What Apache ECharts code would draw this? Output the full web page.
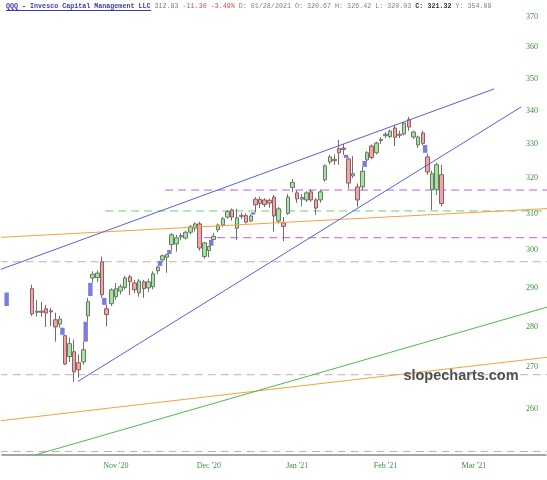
<!DOCTYPE html>
<html>
<head>
<meta charset="UTF-8">
<script src="https://cdn.jsdelivr.net/npm/echarts@6/dist/echarts.min.js"></script>
<style>
  html, body { margin: 0; padding: 0; background: #fff; }
  #chart { width: 547px; height: 480px; }
</style>
</head>
<body>
<div id="chart"></div>
<script>
// QQQ daily candles, Oct 19 2020 .. Feb 25 2021, [open, close, low, high]
const firstSlot = 6;      // slot of the first drawn candle
const slotCount = 117;    // trading-day slots across the whole width
const ohlc = [
  // Oct
  [289.7, 283.2, 282.7, 290.7], [283.6, 283.9, 282.5, 286.8], [283.9, 283.6, 282.5, 286.3],
  [284.5, 283.4, 279.9, 285.5], [284.0, 283.7, 280.1, 284.7], [281.7, 279.9, 276.2, 283.5],
  [280.6, 281.9, 279.7, 282.7], [277.7, 270.7, 270.5, 277.9], [272.5, 275.7, 271.2, 277.2],
  [273.7, 268.8, 266.4, 276.7],
  // Nov
  [271.0, 269.3, 267.4, 273.0], [271.2, 274.2, 270.5, 276.2], [282.7, 286.3, 281.2, 287.3],
  [292.5, 293.5, 291.2, 294.3], [292.6, 293.8, 291.5, 294.5], [296.8, 288.1, 287.3, 298.2],
  [284.5, 283.0, 280.0, 285.5], [285.8, 289.4, 285.2, 289.8], [287.6, 289.7, 286.8, 291.2],
  [289.1, 290.2, 288.2, 290.8], [290.0, 292.5, 289.5, 293.0], [292.8, 291.5, 288.1, 293.3],
  [291.2, 289.4, 288.5, 292.0], [288.6, 291.7, 287.6, 292.2], [291.5, 289.7, 287.3, 292.0],
  [289.9, 291.5, 288.8, 292.3], [290.2, 293.6, 289.5, 294.3], [294.4, 295.4, 293.5, 295.7],
  [297.3, 298.4, 297.0, 298.7], [298.0, 298.8, 293.9, 298.9],
  // Dec
  [301.4, 304.1, 300.0, 304.6], [301.6, 303.3, 299.5, 304.1], [303.5, 303.9, 302.6, 304.6],
  [303.2, 304.8, 302.8, 305.2], [304.8, 306.3, 304.2, 306.8], [305.9, 307.1, 305.0, 307.5],
  [307.1, 300.5, 299.8, 307.7], [298.2, 301.9, 297.6, 302.2], [299.8, 300.9, 298.0, 301.1],
  [302.8, 303.7, 302.7, 304.6], [305.5, 306.8, 304.8, 307.2], [306.8, 308.5, 306.2, 309.0],
  [309.0, 310.5, 308.5, 310.9], [311.0, 309.0, 308.0, 311.4], [305.9, 308.8, 302.7, 311.3],
  [309.4, 309.2, 308.4, 310.2], [309.4, 307.6, 307.2, 310.0], [307.9, 309.3, 307.6, 309.7],
  [314.0, 312.4, 310.3, 314.6], [313.9, 312.8, 311.5, 314.7], [313.8, 312.5, 311.8, 314.3],
  [313.7, 312.9, 311.6, 314.2],
  // Jan
  [314.6, 309.3, 305.0, 315.2], [307.9, 311.3, 307.2, 311.8], [307.4, 306.4, 302.4, 309.0],
  [310.0, 314.6, 309.6, 315.5], [317.3, 318.8, 316.0, 319.8], [315.8, 314.1, 313.0, 316.5],
  [314.0, 314.5, 312.0, 315.5], [313.8, 315.8, 313.2, 316.3], [316.1, 313.8, 313.2, 316.8],
  [313.8, 311.5, 309.6, 314.3], [313.8, 316.1, 313.0, 316.8], [319.5, 323.6, 319.0, 324.0],
  [324.7, 326.2, 324.0, 326.8], [325.5, 325.1, 323.9, 326.9], [328.6, 327.4, 323.9, 331.2],
  [328.8, 328.4, 326.8, 330.0], [325.6, 318.6, 317.0, 325.9], [320.67, 321.32, 320.03, 326.42],
  [317.5, 313.8, 311.9, 318.5],
  // Feb
  [317.5, 322.0, 316.5, 323.3], [325.3, 327.4, 325.0, 327.9], [329.4, 326.0, 325.5, 329.9],
  [327.4, 330.3, 326.9, 330.7], [331.0, 331.4, 330.0, 332.0], [332.5, 332.9, 331.7, 333.6],
  [332.2, 333.9, 331.8, 334.3], [334.8, 332.0, 329.4, 335.8], [332.9, 332.6, 331.8, 334.0],
  [333.0, 336.3, 332.5, 336.6], [337.3, 335.1, 334.0, 338.2], [332.1, 333.6, 331.5, 334.0],
  [329.7, 332.1, 328.8, 332.5], [333.3, 330.2, 329.7, 334.0], [326.2, 321.8, 321.0, 327.2],
  [316.7, 321.3, 311.0, 322.2], [316.7, 323.9, 315.2, 324.5], [321.0, 312.8, 312.0, 323.9]
];

// price gaps (blue boxes): slot between two days, gap bottom, gap top
const gapSlots = [0.5, 12.5, 17.5, 18.5, 21.5, 33.5, 35.5, 44.5, 53.5, 73.5, 77.5, 90.5];
const gapLows  = [285.2, 277.9, 276.2, 287.8, 285.5, 295.7, 298.9, 301.1, 309.7, 325.9, 323.3, 327.4];
const gapHighs = [288.7, 279.7, 281.2, 291.2, 287.3, 297.0, 300.0, 302.7, 310.3, 326.8, 325.0, 329.7];

// drawn trend lines: [slot0, price0, slot1, price1]
const channelUpper = [-0.93, 294.7, 105.35, 346.8];
const channelLower = [15.85, 266.5, 111.16, 341.2];
const greenTrend   = [6.6, 249.4, 117.25, 285.1];
const orangeUpper  = [-0.93, 303.4, 117.25, 311.4];
const orangeLower  = [-0.93, 257.2, 117.25, 272.4];

// horizontal levels
const greyLevels   = [296.8, 268.1, 250.2];
const purpleLevels = [316.6, 303.3];
const purpleStarts = [34.6, 43];
const greenLevel   = 310.7;
const greenStart   = 21.7;

const priceTicks = [260, 270, 280, 290, 300, 310, 320, 330, 340, 350, 360, 370];
const monthSlots = [24, 44, 63, 82, 101];
const monthNames = ["Nov '20", "Dec '20", "Jan '21", "Feb '21", "Mar '21"];

const slots = [];
for (let i = 0; i < slotCount; i++) slots.push(String(i));

const candleData = [];
for (let i = 0; i < firstSlot; i++) candleData.push('-');
ohlc.forEach(r => candleData.push(r));

function segment(p, color, dash, z) {
  return {
    type: 'line', xAxisIndex: 1, yAxisIndex: 0, silent: true, symbol: 'none', z: z,
    data: [[p[0], p[1]], [p[2], p[3]]],
    lineStyle: { color: color, width: 1, type: dash || 'solid' }
  };
}

const series = [];
greyLevels.forEach(v => series.push(segment([-1, v, slotCount, v], '#b4b4b4', [8, 5], 1)));
purpleLevels.forEach((v, k) => series.push(segment([purpleStarts[k], v, slotCount, v], '#b95fdc', [8, 5], 1)));
series.push(segment([greenStart, greenLevel, slotCount, greenLevel], '#6fcf6f', [8, 5], 1));

series.push({
  type: 'candlestick', xAxisIndex: 0, yAxisIndex: 0, z: 2,
  barWidth: 4,
  data: candleData,
  itemStyle: {
    color: '#a2e69c', color0: '#f4a4a4',
    borderColor: '#6b776b', borderColor0: '#876262', borderWidth: 1
  }
});

series.push({
  type: 'custom', xAxisIndex: 1, yAxisIndex: 0, z: 3, silent: true,
  data: gapSlots.map((s, k) => [s, gapLows[k], gapHighs[k]]),
  encode: { x: 0, y: [1, 2] },
  renderItem: function (params, api) {
    const s = api.value(0);
    const lo = api.coord([s, api.value(1)]);
    const hi = api.coord([s, api.value(2)]);
    const w = (api.coord([s + 0.5, api.value(1)])[0] - api.coord([s - 0.5, api.value(1)])[0]) * 0.95;
    return {
      type: 'rect',
      shape: { x: lo[0] - w / 2, y: hi[1], width: w, height: lo[1] - hi[1] },
      style: { fill: '#7b7be0' }
    };
  }
});

series.push(segment(orangeUpper, '#f4a23c', null, 4));
series.push(segment(orangeLower, '#f4a23c', null, 4));
series.push(segment(greenTrend, '#4cbc4c', null, 4));
series.push(segment(channelUpper, '#5d5de0', null, 4));
series.push(segment(channelLower, '#5d5de0', null, 4));

const mono = '"Liberation Mono", monospace';

const chart = echarts.init(document.getElementById('chart'), null, { renderer: 'canvas' });
chart.setOption({
  animation: false,
  backgroundColor: '#fff',
  grid: { left: 2, right: 1, top: 0, bottom: 25 },
  xAxis: [{
    type: 'category', data: slots, boundaryGap: true,
    axisLine: { show: true, lineStyle: { color: '#888', width: 1.5 } },
    axisTick: { show: false },
    splitLine: { show: false },
    axisLabel: {
      interval: (i) => monthSlots.indexOf(i) >= 0,
      formatter: (v, i) => monthNames[monthSlots.indexOf(i)],
      color: '#3d8f3d', fontFamily: '"Liberation Serif", serif', fontSize: 8, margin: 7
    }
  }, {
    type: 'value', min: -0.5, max: slotCount - 0.5, show: false
  }],
  yAxis: [{
    type: 'log', position: 'right', min: 249.4, max: 375.7,
    axisLine: { show: false }, axisTick: { show: false }, splitLine: { show: false },
    axisLabel: {
      inside: true, margin: 8, customValues: priceTicks,
      color: '#3d8f3d', fontFamily: '"Liberation Serif", serif', fontSize: 8
    }
  }],
  graphic: [{
    type: 'text', x: 6, y: 3, z: 10,
    style: {
      text: '{t|QQQ - Invesco Capital Management LLC} {g|312.83} {r|-11.30 -3.49%} ' +
            '{g|D: 01/28/2021 O: 320.67 H: 326.42 L: 320.03} {b|C: 321.32} {g|Y: 354.09}',
      fontSize: 6.7, fontFamily: mono, fill: '#777',
      rich: {
        t: { fill: '#3a3ab8', fontSize: 6.7, fontFamily: mono, fontWeight: 'bold' },
        g: { fill: '#808080', fontSize: 6.7, fontFamily: mono },
        r: { fill: '#e04848', fontSize: 6.7, fontFamily: mono },
        b: { fill: '#333', fontSize: 6.7, fontFamily: mono, fontWeight: 'bold' }
      }
    }
  }, {
    type: 'line', z: 10,
    shape: { x1: 6, y1: 10.5, x2: 151, y2: 10.5 },
    style: { stroke: '#3a3ab8', lineWidth: 1 }
  }, {
    type: 'text', x: 461, y: 376, z: 10,
    style: {
      text: 'slopecharts.com', fill: '#505050',
      font: 'bold 14.5px "Liberation Sans", Arial, sans-serif',
      align: 'center', verticalAlign: 'middle'
    }
  }],
  series: series
});
</script>
</body>
</html>
